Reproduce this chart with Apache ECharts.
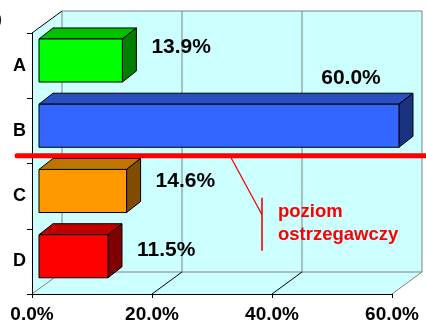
<!DOCTYPE html>
<html>
<head>
<meta charset="utf-8">
<script src="https://cdn.jsdelivr.net/npm/echarts@6/dist/echarts.min.js"></script>
<style>
  html, body { margin: 0; padding: 0; background: #ffffff; }
  #chart { width: 426px; height: 325px; }
</style>
</head>
<body>
<div id="chart"></div>
<script>
// Categories, shares (%) and value-axis ticks
const categories = ['A', 'B', 'C', 'D'];
const shares = [13.9, 60.0, 14.6, 11.5];
const valueTicks = [0, 20, 40, 60];
const warningText = ['poziom', 'ostrzegawczy'];

// Box colours: front, top, side
const faceColors = [
  ['#00ff00', '#00c000', '#008000'],
  ['#3366ff', '#2850c0', '#1a3380'],
  ['#ff9900', '#bf7300', '#804c00'],
  ['#ff0000', '#c00000', '#800000']
];

const FONT = "'Liberation Sans', Arial, sans-serif";
const DX = 30, DY = -22;          // depth of the 3D plot box
const BAR_F = 0.233;              // depth position of the bar front faces
const BAR_DX = 14, BAR_DY = -11;  // bar thickness in depth
const labelLift = [8, 0, 5, 1];   // vertical nudges of the value labels

const chart = echarts.init(document.getElementById('chart'), null, { renderer: 'canvas' });

function wallsItem(params, api) {
  const cs = params.coordSys;
  const L = cs.x, R = cs.x + cs.width, T = cs.y, B = cs.y + cs.height;
  const fill = '#ccffff', gray = '#808080';
  const children = [];
  // left wall
  children.push({ type: 'polygon', shape: { points: [[L, T], [L + DX, T + DY], [L + DX, B + DY], [L, B]] },
    style: { fill: fill, stroke: null } });
  // floor
  children.push({ type: 'polygon', shape: { points: [[L, B], [L + DX, B + DY], [R + DX, B + DY], [R, B]] },
    style: { fill: fill, stroke: null } });
  // back wall
  children.push({ type: 'rect', shape: { x: L + DX, y: T + DY, width: R - L, height: B - T },
    style: { fill: fill, stroke: gray, lineWidth: 1 } });
  // back wall gridlines and floor diagonals
  valueTicks.forEach(function (t, i) {
    const x = api.coord([t, 0])[0];
    if (i > 0 && i < valueTicks.length - 1) {
      children.push({ type: 'line', shape: { x1: x + DX, y1: T + DY, x2: x + DX, y2: B + DY },
        style: { stroke: gray, lineWidth: 1 } });
    }
    const edge = (i === 0 || i === valueTicks.length - 1);
    children.push({ type: 'line', shape: { x1: x, y1: B, x2: x + DX, y2: B + DY },
      style: { stroke: edge ? gray : '#000000', lineWidth: 1 } });
  });
  // top edge of left wall
  children.push({ type: 'line', shape: { x1: L, y1: T, x2: L + DX, y2: T + DY },
    style: { stroke: '#000000', lineWidth: 1 } });
  return { type: 'group', children: children };
}

function barItem(params, api) {
  const idx = api.value(0);
  const val = api.value(1);
  const p0 = api.coord([0, idx]);
  const p1 = api.coord([val, idx]);
  const band = api.size([0, 1])[1];
  const h = band * 0.66;
  const ox = DX * BAR_F, oy = DY * BAR_F;
  const x0 = p0[0] + ox, x1 = p1[0] + ox;
  const yc = p0[1] + oy;
  const yT = yc - h / 2, yB = yc + h / 2;
  const c = faceColors[idx];
  const st = { stroke: '#000000', lineWidth: 1, lineJoin: 'round' };
  const children = [
    { type: 'polygon', shape: { points: [[x0, yT], [x1, yT], [x1 + BAR_DX, yT + BAR_DY], [x0 + BAR_DX, yT + BAR_DY]] },
      style: Object.assign({ fill: c[1] }, st) },
    { type: 'polygon', shape: { points: [[x1, yT], [x1 + BAR_DX, yT + BAR_DY], [x1 + BAR_DX, yB + BAR_DY], [x1, yB]] },
      style: Object.assign({ fill: c[2] }, st) },
    { type: 'rect', shape: { x: x0, y: yT, width: x1 - x0, height: h },
      style: Object.assign({ fill: c[0] }, st) }
  ];
  const txt = val.toFixed(1) + '%';
  const long = val > 50;
  children.push({
    type: 'text',
    style: {
      text: txt,
      x: long ? x1 - 48 : x1 + 29,
      y: long ? yT + BAR_DY - 5 : yc - 5 - labelLift[idx],
      align: long ? 'center' : 'left',
      verticalAlign: long ? 'bottom' : 'middle',
      font: 'bold 21px ' + FONT,
      fill: '#000000'
    }
  });
  return { type: 'group', children: children };
}

function warningItem(params, api) {
  const yB = api.coord([0, 1])[1], yC = api.coord([0, 2])[1];
  const y = (yB + yC) / 2 + DY * 0.35;
  const ax = api.coord([33, 0])[0];
  const bx = ax + 32, by = y + 59;
  const red = '#ff0000';
  return {
    type: 'group',
    children: [
      { type: 'line', shape: { x1: 17, y1: y, x2: 430, y2: y },
        style: { stroke: red, lineWidth: 5, lineCap: 'round' } },
      { type: 'line', shape: { x1: ax, y1: y, x2: bx, y2: by },
        style: { stroke: red, lineWidth: 1.3 } },
      { type: 'line', shape: { x1: bx, y1: by - 17, x2: bx, y2: by + 36 },
        style: { stroke: red, lineWidth: 1.6 } },
      { type: 'text', style: { text: warningText[0], x: bx + 16, y: by - 3, align: 'left', verticalAlign: 'middle',
        font: 'bold 18.5px ' + FONT, fill: red } },
      { type: 'text', style: { text: warningText[1], x: bx + 16, y: by + 20, align: 'left', verticalAlign: 'middle',
        font: 'bold 18.5px ' + FONT, fill: red } }
    ]
  };
}

chart.setOption({
  animation: false,
  backgroundColor: '#ffffff',
  grid: { left: 32, right: 34, top: 33, bottom: 31, containLabel: false },
  xAxis: {
    type: 'value', min: 0, max: 60, interval: 20, z: 4,
    axisLine: { show: true, lineStyle: { color: '#000000', width: 1 } },
    axisTick: { show: true, length: 4, lineStyle: { color: '#000000' } },
    splitLine: { show: false },
    axisLabel: { margin: 11, color: '#000000', fontFamily: FONT, fontWeight: 'bold', fontSize: 19,
      formatter: function (v) { return v.toFixed(1) + '%'; } }
  },
  yAxis: {
    type: 'category', data: categories, inverse: true, z: 4,
    axisLine: { show: true, lineStyle: { color: '#000000', width: 1 } },
    axisTick: { show: true, length: 5, lineStyle: { color: '#000000' } },
    splitLine: { show: false },
    axisLabel: { margin: 6, color: '#000000', fontFamily: FONT, fontWeight: 'bold', fontSize: 18 }
  },
  graphic: [
    { type: 'text', left: -3, top: 13, style: { text: ')', font: 'bold 14px ' + FONT, fill: '#000000' } }
  ],
  series: [
    { type: 'custom', name: 'walls', z: 1, silent: true, renderItem: wallsItem, data: [[0, 0]],
      encode: { x: 1, y: 0 } },
    { type: 'custom', name: 'udział', z: 3, renderItem: barItem,
      data: shares.map(function (v, i) { return [i, v]; }), encode: { x: 1, y: 0 } },
    { type: 'custom', name: 'warning', z: 5, silent: true, renderItem: warningItem, data: [[0, 0]],
      encode: { x: 1, y: 0 } }
  ]
});
</script>
</body>
</html>
